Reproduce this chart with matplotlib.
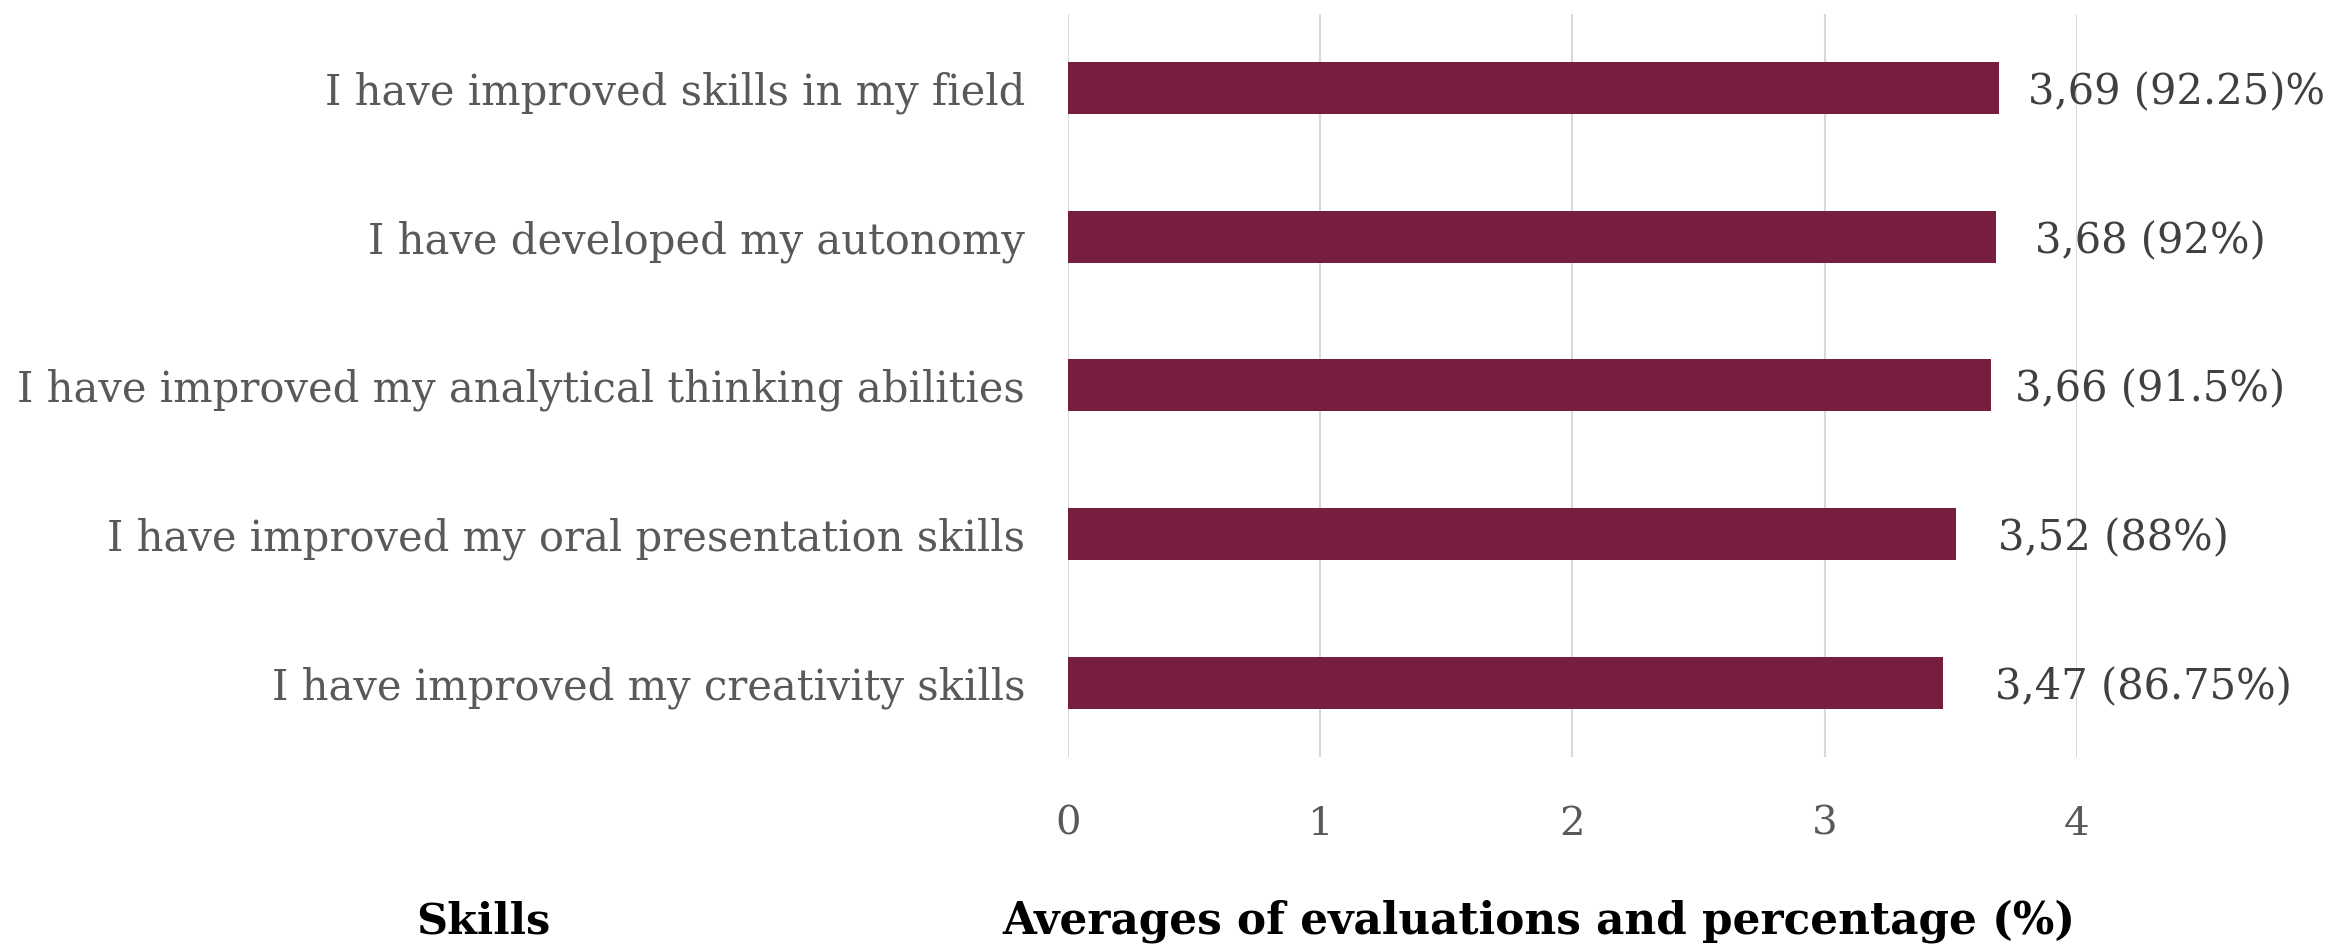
import matplotlib
matplotlib.use('Agg')
from matplotlib import pyplot as plt

skills = ['I have improved skills in my field',
          'I have developed my autonomy',
          'I have improved my analytical thinking abilities',
          'I have improved my oral presentation skills',
          'I have improved my creativity skills']
averages = [3.69, 3.68, 3.66, 3.52, 3.47]
value_labels = ['3,69 (92.25)%', '3,68 (92%)', '3,66 (91.5%)', '3,52 (88%)', '3,47 (86.75%)']
x_ticks = [0, 1, 2, 3, 4]

# label gaps after bar end (points), as placed in the original
label_gap = [21, 28, 17, 30, 37]

BAR_COLOR = '#771e40'
LABEL_GREY = '#595959'
VALUE_GREY = '#404040'

plt.rcParams['font.family'] = ['DejaVu Serif']


def main():
    fig = plt.figure(figsize=(23.31, 9.44), dpi=100)
    ax = fig.add_axes([0.4582, 0.1981, 0.4328, 0.7871])

    ypos = list(range(len(skills)))
    ax.barh(ypos, averages, height=0.35, color=BAR_COLOR, zorder=3)

    for y, v, txt, gap in zip(ypos, averages, value_labels, label_gap):
        ax.annotate(txt, xy=(v, y), xytext=(gap, -3), textcoords='offset points',
                    ha='left', va='center', fontsize=30, color=VALUE_GREY,
                    annotation_clip=False)

    ax.set_xlim(0, 4)
    ax.set_ylim(len(skills) - 0.5, -0.5)
    ax.set_xticks(x_ticks)
    ax.set_xticklabels([str(t) for t in x_ticks])
    ax.set_yticks(ypos)
    ax.set_yticklabels(skills)

    ax.tick_params(axis='y', length=0, pad=31, labelsize=30, labelcolor=LABEL_GREY)
    ax.tick_params(axis='x', length=0, pad=35, labelsize=29, labelcolor=LABEL_GREY)

    ax.grid(axis='x', color='#d9d9d9', linewidth=1.5, zorder=0)
    ax.grid(axis='y', visible=False)
    for s in ax.spines.values():
        s.set_visible(False)

    fig.text(0.2072, 0.0106, 'Skills', ha='center', va='baseline',
             fontsize=31, fontweight='bold', color='black')
    fig.text(0.6602, 0.0106, 'Averages of evaluations and percentage (%)',
             ha='center', va='baseline', fontsize=31.5, fontweight='bold', color='black')

    plt.savefig('out.png', dpi=100)


if __name__ == '__main__':
    main()
